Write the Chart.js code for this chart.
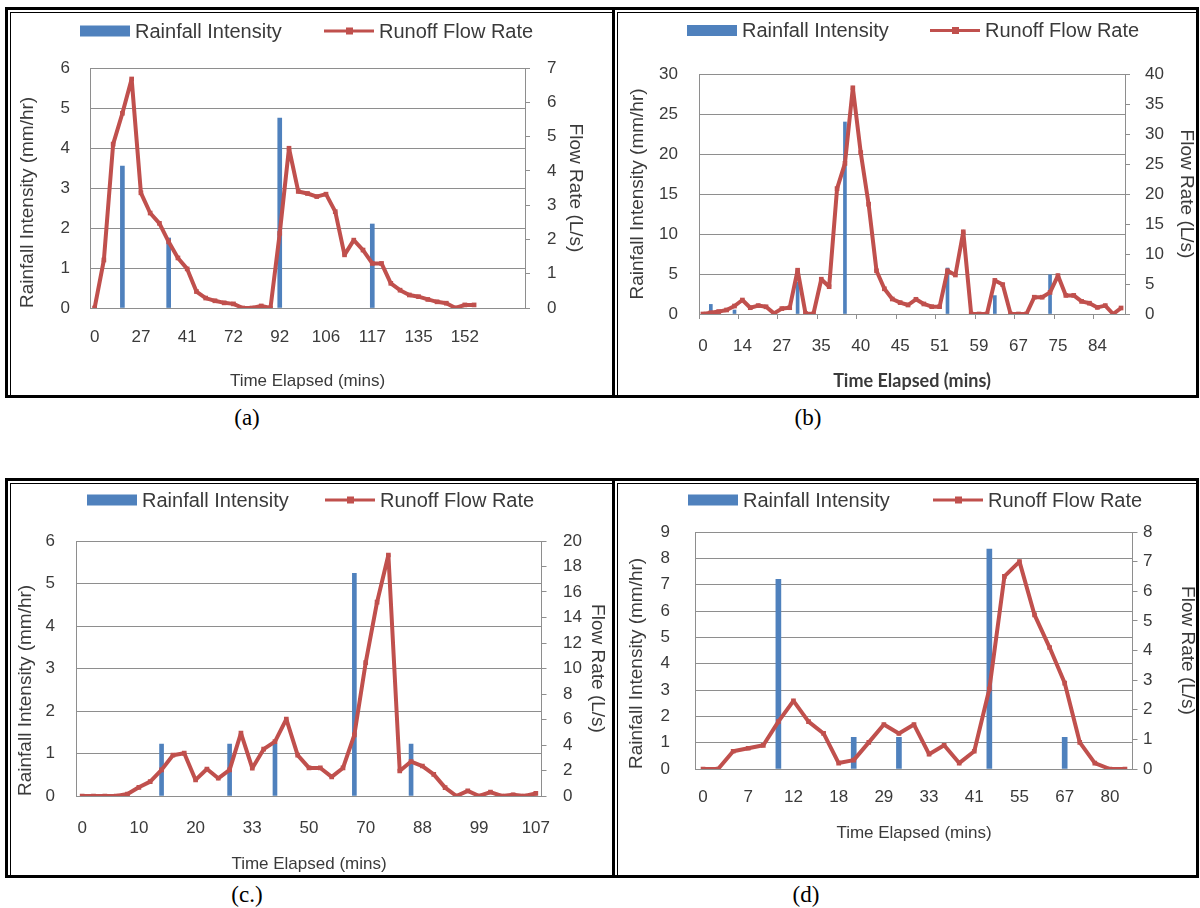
<!DOCTYPE html>
<html><head><meta charset="utf-8">
<script src="https://cdn.jsdelivr.net/npm/chart.js@4.4.1/dist/chart.umd.min.js"></script>
<style>
html,body{margin:0;padding:0;background:#fff;}
body{width:1200px;height:908px;position:relative;overflow:hidden;}
.panel{position:absolute;box-sizing:border-box;border:3px solid #000;}
.panel::before{content:"";position:absolute;left:2px;top:2px;right:0;bottom:0;border-left:1px solid #000;border-top:1px solid #000;}
canvas{position:absolute;}
.cap{position:absolute;width:100px;text-align:center;font-family:"Liberation Serif","Times New Roman",serif;font-size:23px;line-height:26px;color:#000;}
</style></head><body>
<div class="panel" style="left:5px;top:7px;width:610px;height:391px"></div>
<div class="panel" style="left:612px;top:7px;width:587px;height:391px"></div>
<div class="panel" style="left:5px;top:478px;width:610px;height:400px"></div>
<div class="panel" style="left:612px;top:478px;width:587px;height:400px"></div>
<canvas id="cA" width="602" height="384" style="left:9px;top:12px"></canvas>
<canvas id="cB" width="581" height="384" style="left:619px;top:12px"></canvas>
<canvas id="cC" width="602" height="393" style="left:9px;top:483px"></canvas>
<canvas id="cD" width="581" height="393" style="left:619px;top:483px"></canvas>
<div class="cap" style="left:197px;top:405px">(a)</div>
<div class="cap" style="left:758px;top:405px">(b)</div>
<div class="cap" style="left:197px;top:882px">(c.)</div>
<div class="cap" style="left:756px;top:882px">(d)</div>
<script>
// ---------- DATA ----------
const seriesNames = ['Rainfall Intensity', 'Runoff Flow Rate'];
const xTitle = 'Time Elapsed (mins)';
const yTitle = 'Rainfall Intensity (mm/hr)';
const y1Title = 'Flow Rate (L/s)';

// (a)
const timeTicksA = ['0','27','41','72','92','106','117','135','152'];
const rainA = [null,null,null,3.55,null, null,null,null,1.75,null,
               null,null,null,null,null, null,null,null,null,null,
               4.75,null,null,null,null, null,null,null,null,null,
               2.1,null,null,null,null, null,null,null,null,null,
               null,null,null,null,null, null,null];
const flowA = [0,1.4,4.78,5.68,6.68,3.36,2.77,2.47,1.93,1.46,
               1.14,0.48,0.29,0.21,0.15,0.12,0,0,0.06,0,
               2.18,4.66,3.4,3.34,3.25,3.32,2.81,1.55,1.98,1.69,
               1.3,1.3,0.72,0.52,0.38,0.33,0.25,0.18,0.14,0,
               0.09,0.09,null,null,null,null,null];

// (b)
const timeTicksB = ['0','14','27','35','40','45','51','59','67','75','84'];
const rainB = [null,1.2,null,null,0.5, null,null,null,null,null,
               null,null,4,null,null, null,null,null,24,null,
               null,null,null,null,null, null,null,null,null,null,
               null,5.75,null,null,null, null,null,2.3,null,null,
               null,null,null,null,4.9, null,null,null,null,null,
               null,null,null,null];
const flowB = [0,0.2,0.4,0.67,1.33,2.33,1.05,1.4,1.2,0.1,
               0.9,1.05,7.3,0.1,0,5.8,4.55,20.9,25.1,37.7,
               26.9,18.3,7.2,4.2,2.5,1.9,1.5,2.45,1.67,1.22,
               1.22,7.2,6.5,13.7,0,0,0,5.6,4.9,0,
               0,0,2.8,2.8,3.6,6.4,3.1,3.1,2.1,1.8,
               1.1,1.4,0,1.0];

// (c)
const timeTicksC = ['0','10','20','33','50','70','88','99','107'];
const rainC = [null,null,null,null,null, null,null,1.22,null,null,
               null,null,null,1.22,null, null,null,1.22,null,null,
               null,null,null,null,5.24, null,null,null,null,1.22,
               null,null,null,null,null, null,null,null,null,null,
               null];
const flowC = [0,0,0,0,0.15,0.68,1.13,2.05,3.2,3.36,
               1.26,2.12,1.39,2.05,4.93,2.18,3.67,4.27,6.03,3.2,
               2.2,2.2,1.5,2.2,4.8,10.46,15.2,18.9,1.96,2.7,
               2.35,1.7,0.66,0,0.4,0,0.3,0,0.1,0,
               0.2];

// (d)
const timeTicksD = ['0','7','12','18','29','33','41','55','67','80'];
const rainD = [null,null,null,null,null, 7.2,null,null,null,null,
               1.2,null,null,1.2,null, null,null,null,null,8.35,
               null,null,null,null,1.2, null,null,null,null];
const flowD = [0,0,0.6,0.7,0.8,1.6,2.3,1.6,1.2,0.2,
               0.3,0.9,1.5,1.2,1.5,0.5,0.8,0.2,0.6,2.7,
               6.5,7.0,5.2,4.1,2.9,0.9,0.2,0,0];

// ---------- STYLE ----------
const BLUE = '#4F81BD', RED = '#C0504D', GRID = '#8E8E8E', TXT = '#3A3A3A';
const FF = '"Liberation Sans", Arial, sans-serif';

function buildCats(n, ticks, every) {
  const c = [];
  for (let i = 0; i < n; i++) c.push(i % every === 0 && ticks[i / every] !== undefined ? ticks[i / every] : '');
  return c;
}

const xlLegend = {
  id: 'xlLegend',
  afterDraw(chart, args, o) {
    const ctx = chart.ctx, ds = chart.data.datasets;
    ctx.save();
    ctx.font = o.size + 'px ' + FF;
    ctx.textBaseline = 'middle';
    ctx.textAlign = 'left';
    ctx.fillStyle = ds[0].backgroundColor;
    ctx.fillRect(o.x1, o.y - 5.5, 50, 11);
    ctx.fillStyle = TXT;
    ctx.fillText(ds[0].label, o.x1 + 55, o.y + 1);
    ctx.strokeStyle = ds[1].borderColor;
    ctx.lineWidth = 3;
    ctx.beginPath(); ctx.moveTo(o.x2, o.y); ctx.lineTo(o.x2 + 50, o.y); ctx.stroke();
    ctx.fillStyle = ds[1].borderColor;
    ctx.fillRect(o.x2 + 22, o.y - 3.5, 7, 7);
    ctx.fillStyle = TXT;
    ctx.fillText(ds[1].label, o.x2 + 55, o.y + 1);
    ctx.restore();
  }
};

function makeChart(id, d, p) {
  const cats = buildCats(d.rain.length, d.ticks, d.every);
  return new Chart(document.getElementById(id), {
    data: {
      labels: cats,
      datasets: [
        { type: 'bar', label: seriesNames[0], data: d.rain, yAxisID: 'y', backgroundColor: BLUE,
          barThickness: p.barW, order: 2 },
        { type: 'line', label: seriesNames[1], data: d.flow, yAxisID: 'y1', borderColor: RED,
          backgroundColor: RED, borderWidth: 4, pointStyle: 'rect', pointRadius: 3.3, pointBorderWidth: 0,
          pointBackgroundColor: RED, tension: 0, borderJoinStyle: 'round', borderCapStyle: 'round',
          spanGaps: false, order: 1 }
      ]
    },
    options: {
      responsive: false, animation: false, devicePixelRatio: 1,
      layout: { padding: { top: p.top, left: 0, right: 0, bottom: 0 } },
      plugins: { legend: { display: false }, tooltip: { enabled: false },
        xlLegend: { x1: p.lx1, x2: p.lx2, y: p.ly, size: 20 } },
      scales: {
        x: {
          type: 'category', offset: true,
          afterFit: s => { s.height = p.xH; },
          grid: p.xTicks ? { display: true, drawOnChartArea: false, drawTicks: true, tickLength: 5, offset: true,
                   color: c => (c.index % d.every === 0 ? GRID : 'rgba(0,0,0,0)') }
                : { display: false, drawTicks: false },
          border: { display: true, color: GRID },
          ticks: { autoSkip: false, maxRotation: 0, minRotation: 0, padding: p.xPad, color: TXT,
                   font: { size: 17, family: FF } },
          title: { display: true, text: xTitle, color: TXT, padding: { top: 0, bottom: p.xtPad },
                   font: p.xBold ? { size: 18, family: '"Lato", ' + FF, weight: 'bold' } : { size: 17, family: FF } }
        },
        y: {
          position: 'left', min: 0, max: d.yMax,
          afterFit: s => { s.width = p.yW; },
          ticks: { stepSize: d.yStep, padding: p.yPad, color: TXT, font: { size: 17, family: FF } },
          grid: { color: GRID, drawTicks: false },
          border: { display: true, color: GRID },
          title: { display: true, text: yTitle, color: TXT, align: p.yAlign, padding: { top: p.ytPad, bottom: 0 },
                   font: { size: 19, family: FF } }
        },
        y1: {
          position: 'right', min: 0, max: d.y1Max,
          afterFit: s => { s.width = p.y1W; },
          ticks: { stepSize: d.y1Step, padding: p.y1Pad, color: TXT, font: { size: 17, family: FF } },
          grid: { drawOnChartArea: false, drawTicks: true, tickLength: 5, color: GRID },
          border: { display: true, color: GRID },
          title: { display: true, text: y1Title, color: TXT, padding: { top: p.y1tPad, bottom: 0 },
                   font: { size: 19, family: FF } }
        }
      }
    },
    plugins: [xlLegend]
  });
}

makeChart('cA',
  { rain: rainA, flow: flowA, ticks: timeTicksA, every: 5, yMax: 6, yStep: 1, y1Max: 7, y1Step: 1 },
  { top: 56, yW: 81, y1W: 86, xH: 88, barW: 4, lx1: 71, lx2: 315, ly: 19,
    yPad: 20, ytPad: 7.6, yAlign: 'start', y1Pad: 17, y1tPad: 24.6, xPad: 19.5, xtPad: 4.8, xTicks: false, xBold: false });

makeChart('cB',
  { rain: rainB, flow: flowB, ticks: timeTicksB, every: 5, yMax: 30, yStep: 5, y1Max: 40, y1Step: 5 },
  { top: 62, yW: 80, y1W: 75, xH: 82, barW: 3, lx1: 68, lx2: 311, ly: 18.5,
    yPad: 21, ytPad: 7.1, yAlign: 'center', y1Pad: 15, y1tPad: 2.1, xPad: 17.5, xtPad: 3.7, xTicks: true, xBold: true });

makeChart('cC',
  { rain: rainC, flow: flowC, ticks: timeTicksC, every: 5, yMax: 6, yStep: 1, y1Max: 20, y1Step: 2 },
  { top: 58, yW: 67.5, y1W: 69.5, xH: 80, barW: 4, lx1: 78, lx2: 316, ly: 17,
    yPad: 21.5, ytPad: 5.1, yAlign: 'start', y1Pad: 16.5, y1tPad: 2.6, xPad: 22, xtPad: 1.3, xTicks: false, xBold: false });

makeChart('cD',
  { rain: rainD, flow: flowD, ticks: timeTicksD, every: 3, yMax: 9, yStep: 1, y1Max: 8, y1Step: 1 },
  { top: 49, yW: 76.5, y1W: 67.5, xH: 107, barW: 5, lx1: 69, lx2: 314, ly: 17,
    yPad: 25.5, ytPad: 6.6, yAlign: 'start', y1Pad: 5.5, y1tPad: 1.6, xPad: 18, xtPad: 32.8, xTicks: false, xBold: false });
</script>
</body></html>
